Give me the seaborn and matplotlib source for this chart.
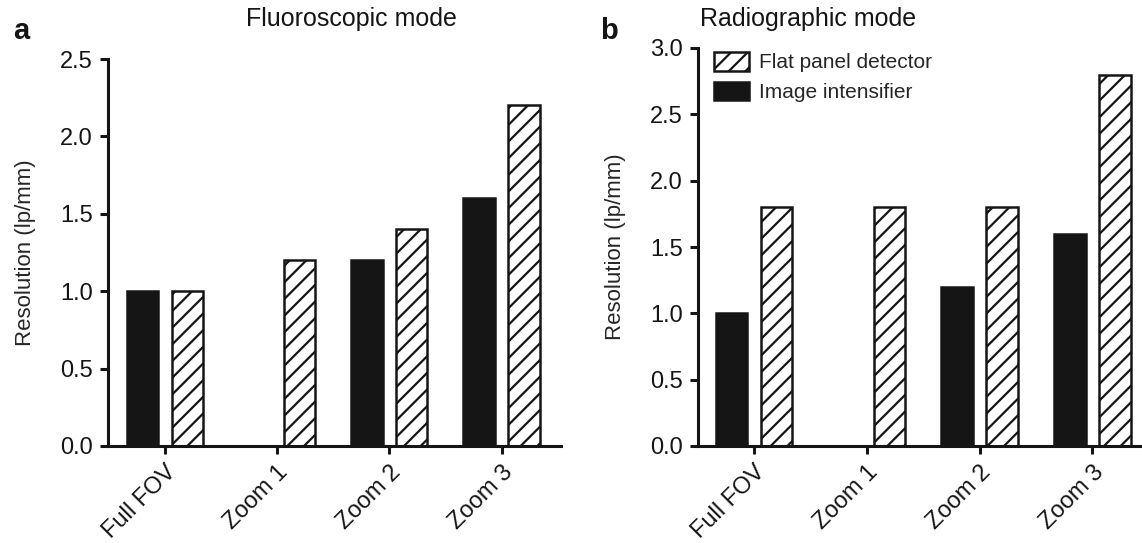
import matplotlib
matplotlib.use("Agg")
import matplotlib.pyplot as plt
import seaborn as sns
import pandas as pd
from matplotlib.patches import Patch

categories = ["Full FOV", "Zoom 1", "Zoom 2", "Zoom 3"]
series_names = ["Image intensifier", "Flat panel detector"]
fluoro_ii = [1.0, 0.0, 1.2, 1.6]
fluoro_fpd = [1.0, 1.2, 1.4, 2.2]
radio_ii = [1.0, 0.0, 1.2, 1.6]
radio_fpd = [1.8, 1.8, 1.8, 2.8]
fluoro_yticks = [0.0, 0.5, 1.0, 1.5, 2.0, 2.5]
radio_yticks = [0.0, 0.5, 1.0, 1.5, 2.0, 2.5, 3.0]

sns.set_theme(style="ticks")
plt.rcParams["font.family"] = ["Liberation Sans", "DejaVu Sans"]
plt.rcParams["hatch.linewidth"] = 1.6

W, H = 1142, 543
fig = plt.figure(figsize=(W / 100, H / 100), dpi=100)
ax1 = fig.add_axes([108 / W, 1 - 446 / H, (561 - 108) / W, (446 - 59) / H])
ax2 = fig.add_axes([698 / W, 1 - 446 / H, (1142 - 698) / W, (446 - 48) / H])

INK = "#151515"


def make_df(ii, fpd):
    rows = []
    for c, v in zip(categories, ii):
        rows.append({"cat": c, "series": series_names[0], "val": v})
    for c, v in zip(categories, fpd):
        rows.append({"cat": c, "series": series_names[1], "val": v})
    return pd.DataFrame(rows)


def draw(ax, ii, fpd, yticks, xlim):
    df = make_df(ii, fpd)
    sns.barplot(data=df, x="cat", y="val", hue="series", hue_order=series_names,
                order=categories, palette=[INK, "white"], gap=0.3,
                edgecolor=INK, linewidth=1.8, errorbar=None, ax=ax,
                legend=False, saturation=1)
    n = len(categories)
    for i, p in enumerate(ax.patches[: 2 * n]):
        if i >= n:
            p.set_hatch("//")
    ax.set_ylim(yticks[0], yticks[-1])
    ax.set_yticks(yticks)
    ax.set_yticklabels([f"{t:.1f}" for t in yticks], fontsize=17)
    ax.set_xlim(*xlim)
    ax.set_xticks(range(n))
    ax.set_xticklabels(categories, rotation=45, ha="right", rotation_mode="anchor",
                       fontsize=17)
    ax.set_xlabel("")
    ax.set_ylabel("Resolution (lp/mm)", fontsize=16, labelpad=17)
    for s in ["top", "right"]:
        ax.spines[s].set_visible(False)
    for s in ["left", "bottom"]:
        ax.spines[s].set_linewidth(2.2)
        ax.spines[s].set_color(INK)
    ax.tick_params(axis="both", width=2.2, length=6, color=INK,
                   labelcolor=INK, pad=5)


draw(ax1, fluoro_ii, fluoro_fpd, fluoro_yticks, (-0.507, 3.53))
draw(ax2, radio_ii, radio_fpd, radio_yticks, (-0.497, 3.44))

fig.text(351 / W, 1 - 19 / H, "Fluoroscopic mode", fontsize=18, ha="center", va="center", color=INK)
fig.text(808 / W, 1 - 19 / H, "Radiographic mode", fontsize=18, ha="center", va="center", color=INK)
fig.text(21 / W, 1 - 31 / H, "a", fontsize=21, fontweight="bold", ha="center", va="center", color=INK)
fig.text(609 / W, 1 - 31 / H, "b", fontsize=21, fontweight="bold", ha="center", va="center", color=INK)

handles = [Patch(facecolor="white", edgecolor=INK, hatch="//", linewidth=1.8),
           Patch(facecolor=INK, edgecolor=INK, linewidth=1.8)]
fig.legend(handles, [series_names[1], series_names[0]], loc="upper left",
           bbox_to_anchor=(714 / W, 1 - 52 / H), frameon=False, fontsize=15,
           handlelength=1.7, handleheight=1.0, labelspacing=0.45,
           borderpad=0, borderaxespad=0, handletextpad=0.45)

fig.savefig("out.png", dpi=100)
